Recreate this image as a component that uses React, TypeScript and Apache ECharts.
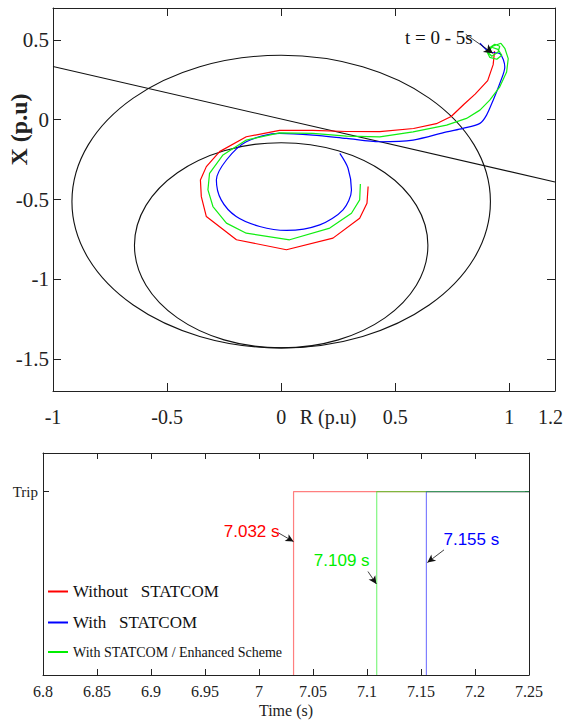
import React, { useEffect, useRef } from 'react';
import * as echarts from 'echarts';

// ---------- Top panel: R-X impedance plane ----------
const mhoCentreR = [0, 0];
const mhoCentreX = [-0.513, -0.787];
const mhoRadius = [0.917, 0.643];

const blinderR = [-1, 1.2];
const blinderX = [0.333, -0.39];

const redTrajectory: [number, number][] = [
  [0.935, 0.43], [0.929, 0.345], [0.905, 0.245], [0.85, 0.16], [0.8, 0.095], [0.745, 0.02],
  [0.68, -0.025], [0.58, -0.055], [0.432, -0.075], [0.286, -0.074], [0.138, -0.067],
  [-0.007, -0.067], [-0.153, -0.107], [-0.27, -0.2], [-0.328, -0.294], [-0.354, -0.378],
  [-0.35, -0.482], [-0.328, -0.607], [-0.196, -0.752], [0.023, -0.815], [0.227, -0.742],
  [0.344, -0.617], [0.376, -0.523], [0.381, -0.419],
];

const blueTrajectory: [number, number][] = [
  [0.871, 0.479], [0.914, 0.424], [0.958, 0.4145], [0.98, 0.33], [0.958, 0.227], [0.929, 0.1225],
  [0.9, 0.029], [0.871, -0.023], [0.797, -0.054], [0.725, -0.076], [0.578, -0.1275],
  [0.432, -0.138], [0.286, -0.117], [0.139, -0.096], [-0.007, -0.086], [-0.153, -0.138],
  [-0.24, -0.2525], [-0.284, -0.3775], [-0.263, -0.5025], [-0.197, -0.607], [-0.094, -0.669],
  [0.023, -0.694], [0.169, -0.659], [0.271, -0.565], [0.308, -0.44], [0.293, -0.304], [0.257, -0.211],
];

const greenTrajectory: [number, number][] = [
  [0.91, 0.4475], [0.936, 0.4725], [0.958, 0.46], [0.95, 0.4225], [0.923, 0.3975], [0.906, 0.4225],
  [0.923, 0.454], [0.95, 0.441], [0.967, 0.404], [0.945, 0.379], [0.914, 0.391], [0.901, 0.429],
  [0.927, 0.46], [0.963, 0.479], [0.98, 0.4475],
  [0.995, 0.383], [0.988, 0.299], [0.958, 0.206], [0.914, 0.1225], [0.871, 0.06], [0.812, 0.008],
  [0.725, -0.034], [0.578, -0.076], [0.432, -0.107], [0.286, -0.1025], [0.139, -0.086],
  [-0.007, -0.082], [-0.153, -0.1275], [-0.255, -0.221], [-0.314, -0.336], [-0.321, -0.44],
  [-0.299, -0.544], [-0.24, -0.648], [-0.153, -0.711], [0.037, -0.7525], [0.213, -0.679],
  [0.308, -0.586], [0.344, -0.5025], [0.347, -0.4025],
];

const rxXLabels = [-1, -0.5, 0, 0.5, 1, 1.2];
const rxXTicks = [-0.5, 0, 0.5, 1];
const rxYTicks = [0.5, 0, -0.5, -1, -1.5];

const startNote = 't = 0 - 5s';
const startNoteAt = [0.691, 0.516];
const startArrowFrom = [0.809, 0.535];
const startArrowTo = [0.928, 0.416];

// ---------- Bottom panel: trip signals ----------
const caseNames = ['Without   STATCOM', 'With   STATCOM', 'With STATCOM / Enhanced Scheme'];
const caseColors = ['#ff0000', '#0000ff', '#00ee00'];
const tripTimes = [7.032, 7.155, 7.109];
const tripLabels = ['7.032 s', '7.155 s', '7.109 s'];
const tripLabelAt = [[6.9932, 0.78], [7.1966, 0.74], [7.0766, 0.622]];
const tripArrowFrom = [[7.0176, 0.776], [7.1713, 0.682], [7.1009, 0.564]];
const tripArrowTo = [[7.032, 0.727], [7.1559, 0.613], [7.1087, 0.496]];
const timeStart = 6.8;
const timeEnd = 7.25;
const tripLevel = 1;

const SERIF = 'Liberation Serif';
const SANS = 'Liberation Sans';

export default function App() {
  const ref = useRef<HTMLDivElement>(null);

  useEffect(() => {
    if (!ref.current) return;
    const chart = echarts.init(ref.current, undefined, { renderer: 'svg' });

    const axisLine = { show: true, onZero: false, lineStyle: { color: '#222', width: 1 } };

    const trajectory = (name: string, data: [number, number][], color: string, smooth: number | boolean) => ({
      name,
      type: 'line',
      xAxisIndex: 0,
      yAxisIndex: 0,
      data,
      showSymbol: false,
      smooth,
      lineStyle: { color, width: 1.2 },
      itemStyle: { color },
      silent: true,
      z: 3,
    });

    const noteLabel = (text: string, color: string, fontFamily: string, fontSize: number) => ({
      show: true,
      position: 'inside',
      formatter: text,
      color,
      fontFamily,
      fontSize,
    });

    const tripSeries = caseNames.map((name, i) => ({
      name,
      type: 'line',
      xAxisIndex: 2,
      yAxisIndex: 2,
      data: [
        [tripTimes[i], 0],
        [tripTimes[i], tripLevel],
        [timeEnd, tripLevel],
      ],
      showSymbol: false,
      color: caseColors[i],
      lineStyle: { color: caseColors[i], width: 1.2, opacity: 0.5 },
      itemStyle: { color: caseColors[i] },
      silent: true,
      markLine: {
        silent: true,
        symbol: ['none', 'arrow'],
        symbolSize: [6, 8],
        label: { show: false },
        lineStyle: { color: '#111', width: 0.8, type: 'solid', opacity: 1 },
        data: [[{ coord: tripArrowFrom[i] }, { coord: tripArrowTo[i] }]],
      },
      markPoint: {
        silent: true,
        symbol: 'rect',
        symbolSize: 1,
        itemStyle: { color: 'rgba(0,0,0,0)' },
        label: noteLabel(tripLabels[i], caseColors[i], SANS, 17),
        data: [{ coord: tripLabelAt[i] }],
      },
    }));

    const gridBase = { outerBoundsMode: 'none', containLabel: false };

    const option: any = {
      animation: false,
      textStyle: { fontFamily: SERIF },
      grid: [
        { ...gridBase, left: 53, top: 8, width: 502, height: 383 },
        { ...gridBase, left: 43, top: 453, width: 486, height: 222 },
      ],
      legend: {
        orient: 'vertical',
        left: 43,
        top: 578,
        itemWidth: 20,
        itemHeight: 2,
        itemGap: 14,
        icon: 'rect',
        selectedMode: false,
        itemStyle: { opacity: 1 },
        textStyle: { fontFamily: SERIF, color: '#111', fontSize: 17 },
        data: [
          { name: caseNames[0], textStyle: { fontSize: 17 } },
          { name: caseNames[1], textStyle: { fontSize: 17 } },
          { name: caseNames[2], textStyle: { fontSize: 14 } },
        ],
      },
      xAxis: [
        {
          gridIndex: 0,
          type: 'value',
          position: 'bottom',
          min: -1,
          max: 1.2,
          axisLine,
          axisTick: { show: true, inside: true, length: 8, customValues: rxXTicks, lineStyle: { color: '#222' } },
          axisLabel: {
            customValues: rxXLabels,
            formatter: (v: number) => (v === 1.2 ? '{end|' + String(v) + '}' : String(v)),
            rich: { end: { fontSize: 20, fontFamily: SERIF, color: '#222', padding: [0, 9, 0, 0] } },
            margin: 16,
            fontSize: 20,
            color: '#222',
            fontFamily: SERIF,
          },
          splitLine: { show: false },
          name: 'R (p.u)',
          nameLocation: 'middle',
          nameGap: 16,
          nameMoveOverlap: false,
          nameTextStyle: { fontSize: 20, color: '#222', fontFamily: SERIF, padding: [0, 0, 0, 48] },
        },
        {
          gridIndex: 0,
          type: 'value',
          position: 'top',
          min: -1,
          max: 1.2,
          axisLine,
          axisTick: { show: true, inside: true, length: 8, customValues: rxXTicks, lineStyle: { color: '#222' } },
          axisLabel: { show: false },
          splitLine: { show: false },
        },
        {
          gridIndex: 1,
          type: 'value',
          position: 'bottom',
          min: timeStart,
          max: timeEnd,
          interval: 0.05,
          axisLine,
          axisTick: { show: true, inside: true, length: 6, lineStyle: { color: '#222' } },
          axisLabel: {
            formatter: (v: number) => String(Number(v.toFixed(2))),
            margin: 8,
            fontSize: 16,
            color: '#222',
            fontFamily: SERIF,
            showMinLabel: true,
            showMaxLabel: true,
          },
          splitLine: { show: false },
          name: 'Time (s)',
          nameLocation: 'middle',
          nameGap: 27,
          nameMoveOverlap: false,
          nameTextStyle: { fontSize: 16, color: '#222', fontFamily: SERIF },
        },
        {
          gridIndex: 1,
          type: 'value',
          position: 'top',
          min: timeStart,
          max: timeEnd,
          interval: 0.05,
          axisLine,
          axisTick: { show: true, inside: true, length: 6, lineStyle: { color: '#222' } },
          axisLabel: { show: false },
          splitLine: { show: false },
        },
      ],
      yAxis: [
        {
          gridIndex: 0,
          type: 'value',
          position: 'left',
          min: -1.7,
          max: 0.7,
          axisLine,
          axisTick: { show: true, inside: true, length: 8, customValues: rxYTicks, lineStyle: { color: '#222' } },
          axisLabel: {
            customValues: rxYTicks,
            formatter: (v: number) => String(v),
            margin: 4,
            fontSize: 21,
            color: '#222',
            fontFamily: SERIF,
          },
          splitLine: { show: false },
          name: 'X (p.u)',
          nameLocation: 'middle',
          nameRotate: 90,
          nameGap: 22,
          nameMoveOverlap: false,
          nameTextStyle: { fontSize: 24, fontWeight: 'bold', color: '#222', fontFamily: SERIF, padding: [0, 0, 0, 140] },
        },
        {
          gridIndex: 0,
          type: 'value',
          position: 'right',
          min: -1.7,
          max: 0.7,
          axisLine,
          axisTick: { show: true, inside: true, length: 8, customValues: rxYTicks, lineStyle: { color: '#222' } },
          axisLabel: { show: false },
          splitLine: { show: false },
        },
        {
          gridIndex: 1,
          type: 'value',
          position: 'left',
          min: 0,
          max: 1.21,
          axisLine,
          axisTick: { show: true, inside: true, length: 6, customValues: [tripLevel], lineStyle: { color: '#222' } },
          axisLabel: {
            customValues: [tripLevel],
            formatter: (v: number) => (v === tripLevel ? 'Trip' : ''),
            margin: 5,
            fontSize: 15,
            color: '#222',
            fontFamily: SERIF,
          },
          splitLine: { show: false },
        },
        {
          gridIndex: 1,
          type: 'value',
          position: 'right',
          min: 0,
          max: 1.21,
          axisLine,
          axisTick: { show: true, inside: true, length: 4, customValues: [tripLevel], lineStyle: { color: '#222' } },
          axisLabel: { show: false },
          splitLine: { show: false },
        },
      ],
      series: [
        {
          name: 'Mho zones',
          type: 'custom',
          xAxisIndex: 0,
          yAxisIndex: 0,
          silent: true,
          data: mhoCentreR.map((r, i) => [r, mhoCentreX[i], mhoRadius[i]]),
          renderItem: (_params: any, api: any) => {
            const c = api.coord([api.value(0), api.value(1)]);
            const s = api.size([api.value(2), api.value(2)]);
            return {
              type: 'ellipse',
              shape: { cx: c[0], cy: c[1], rx: s[0], ry: s[1] },
              style: { fill: 'none', stroke: '#111', lineWidth: 1.1 },
            };
          },
          z: 2,
        },
        {
          name: 'Blinder',
          type: 'line',
          xAxisIndex: 0,
          yAxisIndex: 0,
          data: blinderR.map((r, i) => [r, blinderX[i]]),
          showSymbol: false,
          silent: true,
          lineStyle: { color: '#111', width: 1.1 },
          itemStyle: { color: '#111' },
          z: 2,
          markLine: {
            silent: true,
            symbol: ['none', 'arrow'],
            symbolSize: [7, 9],
            label: { show: false },
            lineStyle: { color: '#111', width: 0.8, type: 'solid' },
            data: [[{ coord: startArrowFrom }, { coord: startArrowTo }]],
          },
          markPoint: {
            silent: true,
            symbol: 'rect',
            symbolSize: 1,
            itemStyle: { color: 'rgba(0,0,0,0)' },
            label: noteLabel(startNote, '#111', SERIF, 19),
            data: [{ coord: startNoteAt }],
          },
        },
        trajectory('R-X without STATCOM', redTrajectory, '#ff0000', false),
        trajectory('R-X with STATCOM', blueTrajectory, '#0000ff', 0.3),
        trajectory('R-X enhanced scheme', greenTrajectory, '#11ee11', false),
        ...tripSeries,
      ],
    };

    chart.setOption(option);
    return () => chart.dispose();
  }, []);

  return (
    <div
      ref={ref}
      style={{ position: 'fixed', left: 0, top: 0, width: 565, height: 720, background: '#fff' }}
    />
  );
}
